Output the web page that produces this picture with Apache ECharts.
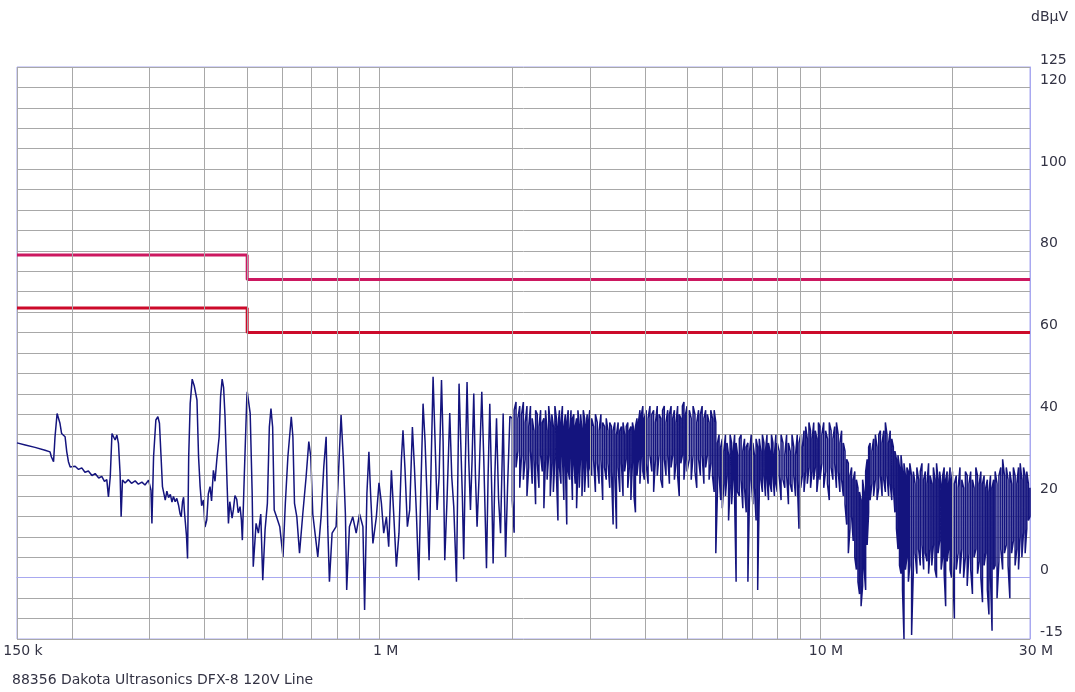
<!DOCTYPE html>
<html>
<head>
<meta charset="utf-8">
<script src="https://cdn.jsdelivr.net/npm/echarts@6/dist/echarts.min.js"></script>
<style>
html,body{margin:0;padding:0;background:#fff;}
#chart{width:1075px;height:692px;}
</style>
</head>
<body>
<div id="chart"></div>
<script>
// ---------- DATA (frequency in MHz, level in dBµV) ----------
const limitFreqMHz = [0.15, 0.5, 0.5, 30];
const qpLimitDb = [79, 79, 73, 73];
const avLimitDb = [66, 66, 60, 60];

const yLabelValues = [-15, 0, 20, 40, 60, 80, 100, 120, 125];
const minorGridMHz = [0.2,0.3,0.4,0.5,0.6,0.7,0.8,0.9,2,3,4,5,6,7,8,9,20];

// sparse part of the sweep: [MHz, dBµV]
const trace150kTo500k = [
[0.150,33.0],[0.1566,32.5],[0.1648,31.9],[0.1737,31.2],[0.1783,30.8],[0.1795,29.6],[0.1816,28.4],[0.1830,34.5],[0.1850,40.2],[0.1862,40.6],[0.1878,37.8],[0.1894,35.3],[0.1929,34.5],[0.1946,30.8],[0.1963,28.4],[0.1981,27.1],[0.2033,27.3],[0.2070,26.5],[0.2105,26.9],[0.2140,25.8],[0.2179,26.1],[0.2220,25.0],[0.2257,25.5],[0.2300,24.4],[0.2337,24.8],[0.2370,23.6],[0.2399,24.0],[0.2420,19.8],[0.2443,24.7],[0.2465,35.3],[0.2486,35.7],[0.2506,33.7],[0.2529,34.9],[0.2550,32.9],[0.2572,25.5],[0.2586,14.9],[0.2604,23.9],[0.2640,23.2],[0.2686,24.0],[0.2730,23.1],[0.2783,23.7],[0.2830,22.9],[0.2883,23.4],[0.2930,22.7],[0.2985,23.9],[0.3023,21.4],[0.3038,13.3],[0.3064,29.6],[0.3101,38.6],[0.3134,39.4],[0.3160,37.8],[0.3184,30.4],[0.3210,22.3],[0.3257,19.0],[0.3285,21.2],[0.3314,19.6],[0.3345,20.4],[0.3374,18.5],[0.3400,19.9],[0.3431,18.6],[0.3460,19.4],[0.3491,17.8],[0.3520,15.6],[0.3541,14.9],[0.3565,18.6],[0.3585,19.7],[0.3600,16.4],[0.3617,13.7],[0.3640,10.2],[0.3660,4.7],[0.3682,29.6],[0.3711,42.6],[0.3750,48.6],[0.3790,47.0],[0.3845,43.5],[0.3877,29.6],[0.3909,22.3],[0.3940,17.6],[0.3977,19.0],[0.4010,12.4],[0.4047,14.1],[0.4080,20.5],[0.4117,22.3],[0.4150,18.8],[0.4190,26.3],[0.4225,23.6],[0.4265,28.8],[0.4318,34.5],[0.4350,44.3],[0.4386,48.6],[0.4420,46.5],[0.4453,39.4],[0.4501,22.8],[0.4533,13.3],[0.4565,18.6],[0.4596,19.0],[0.4620,14.6],[0.4651,16.6],[0.4690,20.1],[0.4734,19.2],[0.4770,15.9],[0.4817,17.4],[0.4850,14.2],[0.4875,9.2],[0.4926,25.4],[0.4990,44.0]
];

const trace500kTo2M = [
[0.5002,45.5],[0.5079,40.2],[0.5132,20.6],[0.5161,2.7],[0.5238,13.3],[0.5302,10.9],[0.5368,15.6],[0.5424,-0.6],[0.5490,11.7],[0.5557,18.2],[0.5614,36.9],[0.5662,41.4],[0.5712,36.9],[0.5759,16.6],[0.5829,14.9],[0.5929,12.5],[0.6030,5.1],[0.6104,18.2],[0.6186,29.6],[0.6297,39.4],[0.6350,34.5],[0.6404,18.2],[0.6482,14.9],[0.6574,6.0],[0.6687,15.6],[0.6805,24.7],[0.6901,33.3],[0.6973,29.6],[0.7046,15.6],[0.7146,10.0],[0.7233,5.1],[0.7359,14.9],[0.7463,27.1],[0.7556,34.5],[0.7620,12.5],[0.7687,-1.0],[0.7795,10.9],[0.7960,12.5],[0.8068,26.6],[0.8170,39.8],[0.8269,28.8],[0.8357,15.6],[0.8414,-3.0],[0.8535,12.5],[0.8686,14.9],[0.8842,10.9],[0.9000,15.6],[0.9159,12.5],[0.9240,-7.9],[0.9352,20.6],[0.9450,30.8],[0.9534,20.6],[0.9651,8.4],[0.9826,14.9],[0.9962,23.2],[1.0089,18.2],[1.0211,10.9],[1.0355,14.9],[1.0481,7.6],[1.0630,26.3],[1.0757,15.8],[1.0910,2.7],[1.1060,10.9],[1.1200,28.8],[1.1294,36.1],[1.1413,26.6],[1.1557,12.5],[1.1698,16.6],[1.1864,36.9],[1.1990,27.1],[1.2117,15.6],[1.2265,-0.6],[1.2394,20.6],[1.2545,42.6],[1.2677,33.3],[1.2811,19.4],[1.2946,4.3],[1.3082,27.1],[1.3220,49.2],[1.3359,33.3],[1.3500,16.6],[1.3642,24.7],[1.3815,48.4],[1.3931,33.3],[1.4053,4.3],[1.4223,19.4],[1.4424,40.3],[1.4576,24.7],[1.4730,17.4],[1.4940,-1.0],[1.5064,28.8],[1.5143,47.5],[1.5276,33.3],[1.5412,19.4],[1.5517,4.5],[1.5657,28.8],[1.5790,47.9],[1.5931,28.8],[1.6074,16.6],[1.6210,28.8],[1.6355,45.1],[1.6501,24.7],[1.6640,12.5],[1.6816,24.7],[1.7055,45.5],[1.7235,28.8],[1.7480,2.3],[1.7627,24.7],[1.7784,42.6],[1.7972,20.6],[1.8097,3.5],[1.8259,24.7],[1.8422,39.0],[1.8617,19.4],[1.8814,10.9],[1.9073,40.2],[1.9314,5.1],[1.9519,22.3],[1.9756,39.5]
];

// dense part of the sweep, read as per-pixel bins: [MHz, max dBµV, min dBµV]
const bins2To3M = [
[2.00,39,19],[2.02,41,11],[2.04,43,27],[2.06,39,31],[2.08,42,22],[2.10,40,30],[2.12,43,24],[2.14,38,29],[2.16,42,20],[2.18,37,27],[2.20,42,31],[2.22,39,23],[2.24,36,29],[2.26,41,18],[2.28,40,28],[2.30,37,22],[2.32,41,30],[2.34,38,26],[2.36,39,17],[2.38,41,29],[2.40,36,24],[2.42,42,30],[2.44,38,20],[2.46,40,28],[2.48,37,21],[2.50,42,29],[2.52,39,25],[2.54,37,14],[2.56,41,27],[2.58,38,23],[2.60,42,30],[2.62,37,19],[2.64,40,28],[2.66,38,13],[2.68,41,26],[2.70,36,24],[2.72,41,30],[2.74,39,19],[2.76,40,28],[2.78,37,23],[2.80,39,17],[2.82,41,27],[2.84,37,22],[2.86,40,30],[2.88,36,20],[2.90,41,28],[2.92,39,21],[2.94,37,27],[2.96,40,30],[2.98,38,22],[3.00,41,27]
];
const bins3To4M = [
[3.03,39,25],[3.06,37,29],[3.09,40,21],[3.12,38,28],[3.15,36,23],[3.18,40,29],[3.21,38,19],[3.24,37,27],[3.27,39,24],[3.30,36,28],[3.33,38,22],[3.36,37,26],[3.39,36,13],[3.42,38,25],[3.45,35,12],[3.48,38,27],[3.51,36,21],[3.54,37,28],[3.57,38,20],[3.60,35,26],[3.63,37,29],[3.66,38,22],[3.69,36,27],[3.72,37,19],[3.75,38,28],[3.78,36,20],[3.81,37,16],[3.84,39,25],[3.87,38,29],[3.90,41,23],[3.93,40,30],[3.96,42,26],[3.99,39,24]
];
const bins4To5M = [
[4.03,41,28],[4.07,39,23],[4.11,42,30],[4.15,40,26],[4.19,41,21],[4.23,38,29],[4.27,42,25],[4.31,40,30],[4.35,39,24],[4.39,41,22],[4.43,42,29],[4.47,38,25],[4.51,41,30],[4.55,40,23],[4.59,42,27],[4.63,39,30],[4.67,41,24],[4.71,38,28],[4.75,42,25],[4.79,40,20],[4.83,39,28],[4.87,42,30],[4.91,43,24],[4.95,40,29],[4.99,42,26]
];
const bins5To6p5M = [
[5.05,41,29],[5.10,39,24],[5.15,42,30],[5.20,40,26],[5.25,38,22],[5.30,41,29],[5.35,40,25],[5.40,42,30],[5.45,39,23],[5.50,41,27],[5.55,40,30],[5.60,38,24],[5.65,41,28],[5.70,39,25],[5.75,41,21],[5.80,38,6],[5.85,33,21],[5.90,35,25],[5.95,32,19],[6.00,34,17],[6.05,31,23],[6.10,35,20],[6.15,33,25],[6.20,30,14],[6.25,35,22],[6.30,33,18],[6.35,31,24],[6.40,35,19],[6.45,33,-1],[6.50,30,21]
];
const bins6p5To8M = [
[6.56,34,20],[6.62,35,24],[6.68,31,17],[6.74,34,22],[6.80,32,16],[6.86,33,-1],[6.92,31,21],[6.98,35,24],[7.04,33,18],[7.10,30,22],[7.16,34,14],[7.22,32,-3],[7.28,34,20],[7.34,31,24],[7.40,35,21],[7.46,33,25],[7.52,31,20],[7.58,35,24],[7.64,33,19],[7.70,31,23],[7.76,35,21],[7.82,33,25],[7.88,30,20],[7.94,35,23]
];
const bins8To10M = [
[8.00,33,21],[8.08,31,25],[8.16,35,19],[8.24,33,24],[8.32,30,22],[8.40,35,25],[8.48,33,18],[8.56,31,23],[8.64,35,21],[8.72,32,25],[8.80,30,20],[8.88,35,24],[8.96,33,12],[9.04,35,22],[9.12,32,25],[9.20,36,21],[9.28,37,26],[9.36,34,23],[9.44,38,27],[9.52,36,22],[9.60,34,26],[9.68,38,24],[9.76,36,27],[9.84,34,21],[9.92,38,25]
];
const bins10To13M = [
[10.0,37,24],[10.1,35,28],[10.2,38,22],[10.3,36,26],[10.4,34,23],[10.5,38,19],[10.6,36,27],[10.7,34,24],[10.8,37,28],[10.9,38,22],[11.0,35,26],[11.1,33,21],[11.2,36,24],[11.3,33,20],[11.4,31,18],[11.5,29,13],[11.6,28,6],[11.7,25,12],[11.8,27,15],[11.9,24,9],[12.0,26,5],[12.1,24,2],[12.2,22,-1],[12.3,21,-4],[12.4,19,-7],[12.5,24,-2],[12.6,21,2],[12.7,26,-3],[12.8,29,8],[12.9,32,16]
];
const bins13To16M = [
[13.00,33,19],[13.12,31,23],[13.24,34,20],[13.36,35,24],[13.48,32,19],[13.60,35,22],[13.72,36,25],[13.84,33,20],[13.96,36,24],[14.08,38,21],[14.20,35,25],[14.32,33,20],[14.44,36,23],[14.56,34,19],[14.68,32,22],[14.80,31,16],[14.92,29,12],[15.04,30,7],[15.16,27,3],[15.28,30,1],[15.40,26,-3],[15.52,28,-15],[15.64,25,2],[15.76,27,5],[15.88,26,-1]
];
const bins16To20M = [
[16.00,28,3],[16.15,25,-14],[16.30,26,2],[16.45,23,6],[16.60,27,1],[16.75,24,7],[16.90,26,3],[17.05,28,8],[17.20,24,2],[17.35,26,6],[17.50,23,4],[17.65,28,1],[17.80,25,7],[17.95,23,3],[18.10,27,8],[18.25,24,2],[18.40,28,0],[18.55,24,6],[18.70,26,9],[18.85,23,2],[19.00,25,5],[19.15,27,1],[19.30,24,-7],[19.45,26,4],[19.60,23,7],[19.75,27,2],[19.90,24,0]
];
const bins20To25M = [
[20.0,26,4],[20.2,23,-10],[20.4,25,2],[20.6,22,6],[20.8,27,1],[21.0,24,7],[21.2,22,0],[21.4,26,5],[21.6,25,-2],[21.8,23,6],[22.0,26,2],[22.2,24,-4],[22.4,22,5],[22.6,27,7],[22.8,25,1],[23.0,23,4],[23.2,26,0],[23.4,23,-6],[23.6,25,3],[23.8,22,6],[24.0,24,-3],[24.2,21,-9],[24.4,25,0],[24.6,22,-13],[24.8,24,2]
];
const bins25To30M = [
[25.00,26,3],[25.25,23,-5],[25.50,25,4],[25.75,27,7],[26.00,29,2],[26.25,25,6],[26.50,27,8],[26.75,24,3],[27.00,26,-5],[27.25,23,6],[27.50,27,9],[27.75,25,3],[28.00,23,7],[28.25,27,2],[28.50,28,10],[28.75,24,5],[29.00,27,11],[29.25,25,6],[29.50,26,12],[29.75,23,14],[30.00,22,15]
];

// ---------- CHART ----------
const denseBins = [].concat(bins2To3M, bins3To4M, bins4To5M, bins5To6p5M, bins6p5To8M, bins8To10M, bins10To13M, bins13To16M, bins16To20M, bins20To25M, bins25To30M);
const densePoints = [];
denseBins.forEach(function (b, i) {
  if (i % 2 === 0) { densePoints.push([b[0], b[1]]); densePoints.push([b[0], b[2]]); }
  else { densePoints.push([b[0], b[2]]); densePoints.push([b[0], b[1]]); }
});
const traceData = [].concat(trace150kTo500k, trace500kTo2M, densePoints);
const qpData = limitFreqMHz.map((f, i) => [f, qpLimitDb[i]]);
const avData = limitFreqMHz.map((f, i) => [f, avLimitDb[i]]);

const FONT = 'DejaVu Sans';
const TXT = '#333344';
const GRIDC = '#a8a8a8';
const BORDER = '#a8a8f0';

const chart = echarts.init(document.getElementById('chart'), null, {renderer: 'canvas'});
chart.setOption({
  animation: false,
  backgroundColor: '#ffffff',
  grid: {left: 17, right: 45, top: 67, bottom: 53, show: true, borderColor: BORDER, borderWidth: 1, backgroundColor: 'transparent'},
  xAxis: {
    type: 'log', logBase: 10, min: 0.15, max: 30,
    axisLine: {show: true, lineStyle: {color: BORDER, width: 1}},
    axisTick: {show: false},
    splitLine: {show: true, lineStyle: {color: GRIDC, width: 1}},
    axisLabel: {
      show: true, margin: 5, color: TXT, fontFamily: FONT, fontSize: 14,
      padding: [0, 0, 0, 12],
      showMinLabel: true, showMaxLabel: true,
      formatter: function (v) {
        if (v < 0.999) return Math.round(v * 1000) + ' k';
        return Math.round(v) + ' M';
      }
    }
  },
  yAxis: {
    type: 'value', position: 'right', min: -15, max: 125, interval: 5,
    axisLine: {show: true, lineStyle: {color: BORDER, width: 1}},
    axisTick: {show: false},
    splitLine: {show: true, lineStyle: {color: GRIDC, width: 1}},
    axisLabel: {
      show: true, margin: 10, color: TXT, fontFamily: FONT, fontSize: 14,
      verticalAlign: 'bottom', align: 'left',
      showMinLabel: true, showMaxLabel: true,
      formatter: function (v) {
        const r = Math.round(v);
        return yLabelValues.indexOf(r) >= 0 ? String(r) : '';
      }
    }
  },
  graphic: [
    {type: 'text', left: 1031, top: 10, style: {text: 'dBµV', font: '14px "DejaVu Sans"', fill: TXT}},
    {type: 'text', left: 12, top: 673, style: {text: '88356 Dakota Ultrasonics DFX-8 120V Line', font: '14px "DejaVu Sans"', fill: TXT}}
  ],
  series: [
    {
      type: 'line', data: [], z: 1, silent: true,
      markLine: {
        silent: true, symbol: ['none', 'none'], label: {show: false},
        lineStyle: {color: GRIDC, type: 'solid', width: 1},
        data: minorGridMHz.map(f => ({xAxis: f}))
      }
    },
    {
      name: 'QP limit', type: 'line', data: qpData, z: 2, showSymbol: false, silent: true,
      lineStyle: {color: '#cc1860', width: 3}
    },
    {
      name: 'AV limit', type: 'line', data: avData, z: 2, showSymbol: false, silent: true,
      lineStyle: {color: '#cc0a2a', width: 3}
    },
    {
      name: 'Trace', type: 'line', data: traceData, z: 3, showSymbol: false, silent: true,
      lineStyle: {color: '#14147e', width: 1.5}
    }
  ]
});
</script>
</body>
</html>
